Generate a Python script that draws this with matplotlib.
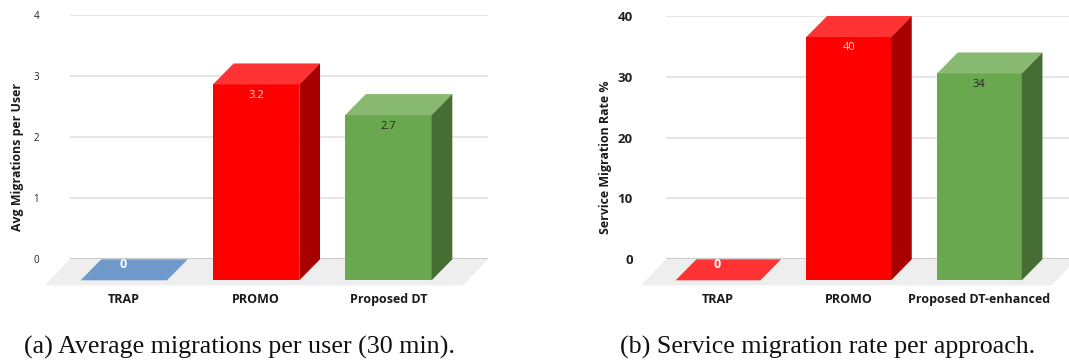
import matplotlib
matplotlib.use('Agg')
import matplotlib.pyplot as plt
from matplotlib.patches import Polygon

plt.rcParams['font.family'] = ['Open Sans', 'DejaVu Sans']

W, H = 1069, 362
Y_ZERO = 259.3

categories_a = ['TRAP', 'PROMO', 'Proposed DT']
migrations = [0, 3.2, 2.7]
ticks_a = [0, 1, 2, 3, 4]

categories_b = ['TRAP', 'PROMO', 'Proposed DT-enhanced']
service_rate = [0, 40, 34]
ticks_b = [0, 10, 20, 30, 40]

# front, top and side colours of each bar
colors_a = [('#7099cb', '#7099cb', '#7099cb'),
            ('#ff0000', '#ff3333', '#a80000'),
            ('#6aa84f', '#88b970', '#466d33')]
colors_b = [('#ff3333', '#ff3333', '#ff3333'),
            ('#ff0000', '#ff3333', '#a80000'),
            ('#6aa84f', '#88b970', '#466d33')]
label_colors = ['white', '#ffdddd', '#222222']

fig = plt.figure(figsize=(W / 100, H / 100), dpi=100)


def draw_panel(box, cats, vals, colors, ticks, first, step, bar_px, floor_right, ylabel, label_x, tick_weight, tick_size, tick_pad):
    x0, x1, y_top = box
    ax = fig.add_axes([x0 / W, 1 - Y_ZERO / H, (x1 - x0) / W, (Y_ZERO - y_top) / H])
    px_x = 1 / step
    px_y = ticks[-1] / (Y_ZERO - y_top)
    ax.set_xlim((x0 - first) * px_x, (x1 - first) * px_x)
    ax.set_ylim(0, ticks[-1])

    depth_x = 20.7 * px_x
    depth_y = 21 * px_y
    width = bar_px * px_x

    # grey floor under the bars, it runs off the figure on the right panel
    xl = ax.get_xlim()[0]
    xr = (floor_right - first) * px_x
    ax.add_patch(Polygon([(xl, 0), (xr, 0), (xr - 25 * px_x, -26 * px_y), (xl - 25 * px_x, -26 * px_y)],
                         closed=True, fc='#eeeeee', ec='none', clip_on=False, zorder=1))
    ax.yaxis.grid(True, color='#e0e0e0', lw=1.2, zorder=0)
    ax.set_axisbelow(True)
    ax.axhline(0, color='#555555', lw=1, zorder=2)

    for i, v in enumerate(vals):
        front, top, side = colors[i]
        left = i - width / 2
        right = i + width / 2
        y0 = -depth_y
        y1 = v - depth_y
        ax.bar(i, v, width=width, bottom=y0, color=front, zorder=3, clip_on=False)
        ax.add_patch(Polygon([(left, y1), (right, y1), (right + depth_x, v), (left + depth_x, v)],
                             closed=True, fc=top, ec='none', clip_on=False, zorder=3))
        ax.add_patch(Polygon([(right, y0), (right + depth_x, 0), (right + depth_x, v), (right, y1)],
                             closed=True, fc=side, ec='none', clip_on=False, zorder=3))
        # value label sits just below the front top edge
        if v == 0:
            ax.text(i - 1 * px_x, y1 + 16 * px_y, str(v), color='white', fontsize=9,
                    fontweight='bold', ha='center', va='center', zorder=4)
        else:
            ax.text(i, y1 - 11 * px_y, str(v), color=label_colors[i], fontsize=8,
                    ha='center', va='center', zorder=4)

    ax.set_xticks(range(len(cats)))
    ax.set_xticklabels(cats, fontsize=9, fontweight='bold', color='#1a1a1a')
    ax.set_yticks(ticks)
    ax.set_yticklabels(ticks, fontsize=tick_size, fontweight=tick_weight, color='#222222')
    ax.tick_params(axis='x', length=0, pad=24.5)
    ax.tick_params(axis='y', length=0, pad=tick_pad)
    ax.set_ylabel(ylabel, fontsize=8.9, fontweight='bold', color='#1a1a1a')
    ax.yaxis.set_label_coords((label_x - x0) / (x1 - x0), (Y_ZERO - 157) / (Y_ZERO - y_top))
    for s in ax.spines.values():
        s.set_visible(False)


draw_panel((69.7, 487.5, 14.5), categories_a, migrations, colors_a, ticks_a, 123.8, 132.3, 86.4, 488,
           'Avg Migrations per User', 24, 'normal', 7, 22)
draw_panel((666, 1069, 16), categories_b, service_rate, colors_b, ticks_b, 718, 130.7, 84.7, 1076.5,
           'Service Migration Rate %', 612, 'bold', 9.5, 23.8)

fig.text(24 / W, 1 - 347.5 / H, '(a) Average migrations per user (30 min).',
         family='Liberation Serif', fontsize=18.7, color='#111111', va='center')
fig.text(620 / W, 1 - 347.5 / H, '(b) Service migration rate per approach.',
         family='Liberation Serif', fontsize=18.7, color='#111111', va='center')

fig.savefig('out.png', dpi=100)
